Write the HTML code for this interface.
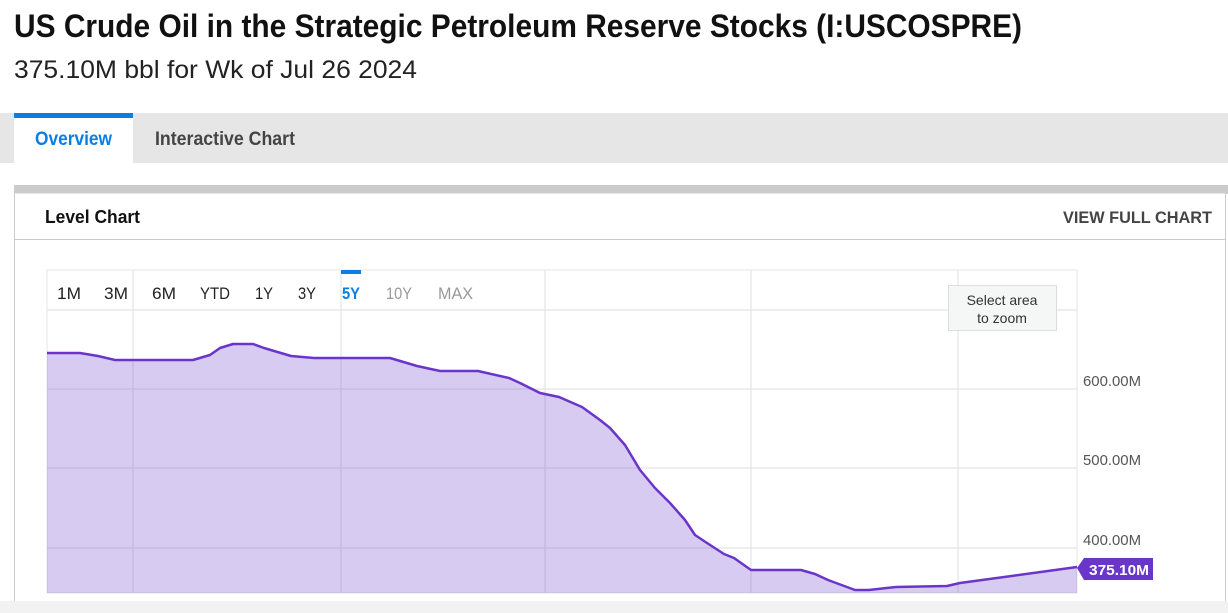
<!DOCTYPE html>
<html><head><meta charset="utf-8"><style>
html,body{margin:0;padding:0;background:#fff;width:1228px;height:613px;overflow:hidden}
text{font-family:"Liberation Sans",sans-serif}
</style></head><body>
<svg width="1228" height="613" viewBox="0 0 1228 613" xmlns="http://www.w3.org/2000/svg">
<text x="14" y="37" font-size="32" font-weight="bold" fill="#111" textLength="1008" lengthAdjust="spacingAndGlyphs">US Crude Oil in the Strategic Petroleum Reserve Stocks (I:USCOSPRE)</text>
<text x="14" y="78" font-size="25" fill="#222" textLength="403" lengthAdjust="spacingAndGlyphs">375.10M bbl for Wk of Jul 26 2024</text>
<rect x="0" y="113" width="1228" height="50" fill="#e6e6e6"/>
<rect x="14" y="113" width="119" height="50" fill="#fff"/>
<rect x="14" y="113" width="119" height="5" fill="#0a7ee2"/>
<text x="35" y="145" font-size="19" font-weight="bold" fill="#0a7ee2" textLength="77" lengthAdjust="spacingAndGlyphs">Overview</text>
<text x="155" y="145" font-size="19" font-weight="bold" fill="#444" textLength="140" lengthAdjust="spacingAndGlyphs">Interactive Chart</text>
<rect x="14" y="185" width="1214" height="9" fill="#cbcbcb"/>
<rect x="14.5" y="193" width="1211" height="420" fill="#fff" stroke="#ccc"/>
<line x1="15" y1="239.5" x2="1226" y2="239.5" stroke="#ccc"/>
<text x="45" y="223" font-size="18" font-weight="bold" fill="#111" textLength="95" lengthAdjust="spacingAndGlyphs">Level Chart</text>
<text x="1063" y="223" font-size="17" font-weight="bold" fill="#444" textLength="149" lengthAdjust="spacingAndGlyphs">VIEW FULL CHART</text>
<rect x="47" y="270" width="1030" height="323" fill="#fff" stroke="#e4e4e4"/>
<g stroke="#e4e4e4" stroke-width="1.2">
<line x1="47" y1="310" x2="1077" y2="310"/>
<line x1="47" y1="389" x2="1077" y2="389"/>
<line x1="47" y1="468" x2="1077" y2="468"/>
<line x1="47" y1="548" x2="1077" y2="548"/>
<line x1="133" y1="270" x2="133" y2="593"/>
<line x1="341" y1="270" x2="341" y2="593"/>
<line x1="545" y1="270" x2="545" y2="593"/>
<line x1="751" y1="270" x2="751" y2="593"/>
<line x1="958" y1="270" x2="958" y2="593"/>
</g>
<path d="M47,353 L80,353 L98,356 L115,360 L193,360 L210,355 L220,348 L233,344 L253,344 L264,348 L291,356 L314,358 L390,358 L417,366 L440,371 L478,371 L509,378 L520,383 L540,393 L559,397 L582,407 L600,420 L610,428 L625,445 L640,470 L655,488 L670,503 L685,520 L695,535 L707,543 L724,554 L734,558 L751,570 L801,570 L815,574 L828,580 L855,590 L869,590 L896,587 L947,586 L960,583 L1077,567 L1077,593 L47,593 Z" fill="#6a35c9" fill-opacity="0.26"/>
<path d="M47,353 L80,353 L98,356 L115,360 L193,360 L210,355 L220,348 L233,344 L253,344 L264,348 L291,356 L314,358 L390,358 L417,366 L440,371 L478,371 L509,378 L520,383 L540,393 L559,397 L582,407 L600,420 L610,428 L625,445 L640,470 L655,488 L670,503 L685,520 L695,535 L707,543 L724,554 L734,558 L751,570 L801,570 L815,574 L828,580 L855,590 L869,590 L896,587 L947,586 L960,583 L1077,567" fill="none" stroke="#6a35c9" stroke-width="2.5" stroke-linejoin="round"/>
<g font-size="17" fill="#222" lengthAdjust="spacingAndGlyphs">
<text x="57" y="299" textLength="24" lengthAdjust="spacingAndGlyphs">1M</text>
<text x="104" y="299" textLength="24" lengthAdjust="spacingAndGlyphs">3M</text>
<text x="152" y="299" textLength="24" lengthAdjust="spacingAndGlyphs">6M</text>
<text x="200" y="299" textLength="30" lengthAdjust="spacingAndGlyphs">YTD</text>
<text x="255" y="299" textLength="18" lengthAdjust="spacingAndGlyphs">1Y</text>
<text x="298" y="299" textLength="18" lengthAdjust="spacingAndGlyphs">3Y</text>
<text x="342" y="299" textLength="18" lengthAdjust="spacingAndGlyphs" fill="#0a7ee2" font-weight="bold">5Y</text>
<text x="386" y="299" textLength="26" lengthAdjust="spacingAndGlyphs" fill="#999">10Y</text>
<text x="438" y="299" textLength="35" lengthAdjust="spacingAndGlyphs" fill="#999">MAX</text>
</g>
<rect x="341" y="270" width="20" height="4" fill="#0a7ee2"/>
<rect x="948.5" y="285.5" width="108" height="45" fill="#f5f6f6" stroke="#ddd"/>
<text x="1002" y="305" font-size="14" fill="#333" text-anchor="middle">Select area</text>
<text x="1002" y="323" font-size="14" fill="#333" text-anchor="middle">to zoom</text>
<g font-size="15" fill="#555">
<text x="1083" y="386" textLength="58" lengthAdjust="spacingAndGlyphs">600.00M</text>
<text x="1083" y="465" textLength="58" lengthAdjust="spacingAndGlyphs">500.00M</text>
<text x="1083" y="545" textLength="58" lengthAdjust="spacingAndGlyphs">400.00M</text>
</g>
<path d="M1077,568 L1084,558 L1153,558 L1153,580 L1084,580 Z" fill="#6a35c9"/>
<text x="1089" y="575" font-size="15" font-weight="bold" fill="#fff" textLength="60" lengthAdjust="spacingAndGlyphs">375.10M</text>
<rect x="0" y="601" width="1228" height="12" fill="#f2f2f2"/>
</svg>
</body></html>
